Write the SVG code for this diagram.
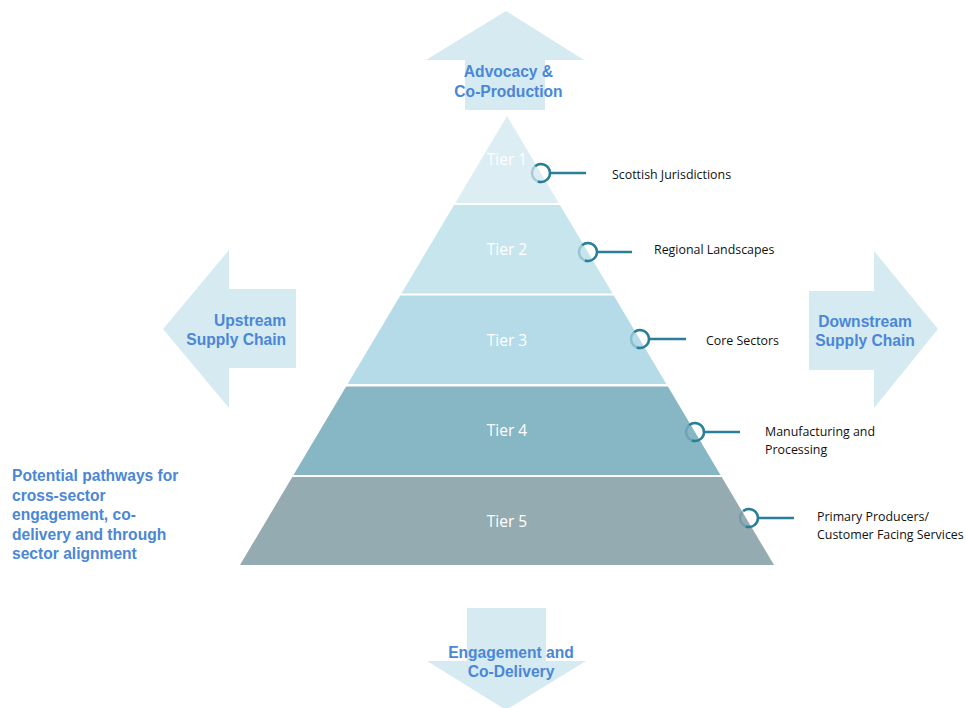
<svg xmlns="http://www.w3.org/2000/svg" width="966" height="708" viewBox="0 0 966 708">
<style>
.arrow{fill:#d6eaf2}
.blue{font-family:"Liberation Sans",Arial,sans-serif;font-weight:bold;font-size:15.6px;fill:#4a87d6}
.tier{font-family:"Open Sans","Noto Sans",sans-serif;font-size:15.5px;fill:#ffffff;text-anchor:middle}
.lbl{font-family:"Open Sans","Noto Sans",sans-serif;font-size:12.4px;fill:#111111}
.ringlight{fill:none;stroke:#2a7f98;stroke-opacity:0.3;stroke-width:2.5}
.ring{fill:none;stroke:#2a7f98;stroke-width:2.5}
.line{stroke:#2a7f98;stroke-width:2.5}
</style>
<rect width="966" height="708" fill="#ffffff"/>

<g id="arrow-up">
<polygon class="arrow" points="506,11 584,60 545,60 545,110 465,110 465,60 426,60"/>
<text class="blue" x="508.5" y="77" text-anchor="middle">Advocacy &amp;</text>
<text class="blue" x="508.5" y="97" text-anchor="middle">Co-Production</text>
</g>

<g id="arrow-left">
<polygon class="arrow" points="163,329 229,250 229,289 296,289 296,368 229,368 229,408"/>
<text class="blue" x="286" y="326" text-anchor="end">Upstream</text>
<text class="blue" x="286" y="345" text-anchor="end">Supply Chain</text>
</g>

<g id="arrow-right">
<polygon class="arrow" points="938,329 874,251 874,291 809,291 809,370 874,370 874,408"/>
<text class="blue" x="865" y="327" text-anchor="middle">Downstream</text>
<text class="blue" x="865" y="346" text-anchor="middle">Supply Chain</text>
</g>

<g id="arrow-down">
<polygon class="arrow" points="467,608 546,608 546,661 586,661 506,710 427,661 467,661"/>
<text class="blue" x="511" y="658" text-anchor="middle">Engagement and</text>
<text class="blue" x="511" y="677" text-anchor="middle">Co-Delivery</text>
</g>

<g id="note">
<text class="blue" x="12" y="481">Potential pathways for</text>
<text class="blue" x="12" y="500.5">cross-sector</text>
<text class="blue" x="12" y="520">engagement, co-</text>
<text class="blue" x="12" y="539.5">delivery and through</text>
<text class="blue" x="12" y="559">sector alignment</text>
</g>

<g id="tier1">
<polygon points="507,116 558.7,203 455.3,203" fill="#dcedf3"/>
<text class="tier" x="507" y="164.5">Tier 1</text>
</g>
<g id="tier2">
<polygon points="454.1,205 559.9,205 612.6,293.5 401.4,293.5" fill="#c6e5ed"/>
<text class="tier" x="507" y="254.5">Tier 2</text>
</g>
<g id="tier3">
<polygon points="400.3,295.5 613.7,295.5 666.4,384 347.6,384" fill="#b4dbe7"/>
<text class="tier" x="507" y="345.5">Tier 3</text>
</g>
<g id="tier4">
<polygon points="346.1,386.5 667.9,386.5 720.5,475 293.5,475" fill="#87b6c4"/>
<text class="tier" x="507" y="436">Tier 4</text>
</g>
<g id="tier5">
<polygon points="292.3,477 721.7,477 774,565 240,565" fill="#94abb2"/>
<text class="tier" x="507" y="526.5">Tier 5</text>
</g>

<g id="connectors">
<circle class="ringlight" cx="541" cy="173" r="9"/>
<path class="ring" d="M535.2,166.1 A9,9 0 1 1 537.9,181.5"/>
<line class="line" x1="550" y1="173" x2="586" y2="173"/>

<circle class="ringlight" cx="588" cy="252" r="9"/>
<path class="ring" d="M582.2,245.1 A9,9 0 1 1 584.9,260.5"/>
<line class="line" x1="597" y1="252" x2="632" y2="252"/>

<circle class="ringlight" cx="640" cy="339" r="9"/>
<path class="ring" d="M634.2,332.1 A9,9 0 1 1 636.9,347.5"/>
<line class="line" x1="649" y1="339" x2="686" y2="339"/>

<circle class="ringlight" cx="695" cy="432" r="9"/>
<path class="ring" d="M689.2,425.1 A9,9 0 1 1 691.9,440.5"/>
<line class="line" x1="704" y1="432" x2="740" y2="432"/>

<circle class="ringlight" cx="749" cy="518" r="9"/>
<path class="ring" d="M743.2,511.1 A9,9 0 1 1 745.9,526.5"/>
<line class="line" x1="758" y1="518" x2="794" y2="518"/>
</g>

<g id="label1"><text class="lbl" x="612" y="179">Scottish Jurisdictions</text></g>
<g id="label2"><text class="lbl" x="654" y="254">Regional Landscapes</text></g>
<g id="label3"><text class="lbl" x="706" y="345">Core Sectors</text></g>
<g id="label4"><text class="lbl" x="765" y="436">Manufacturing and</text><text class="lbl" x="765" y="454">Processing</text></g>
<g id="label5"><text class="lbl" x="817" y="521">Primary Producers/</text><text class="lbl" x="817" y="538.5">Customer Facing Services</text></g>
</svg>
